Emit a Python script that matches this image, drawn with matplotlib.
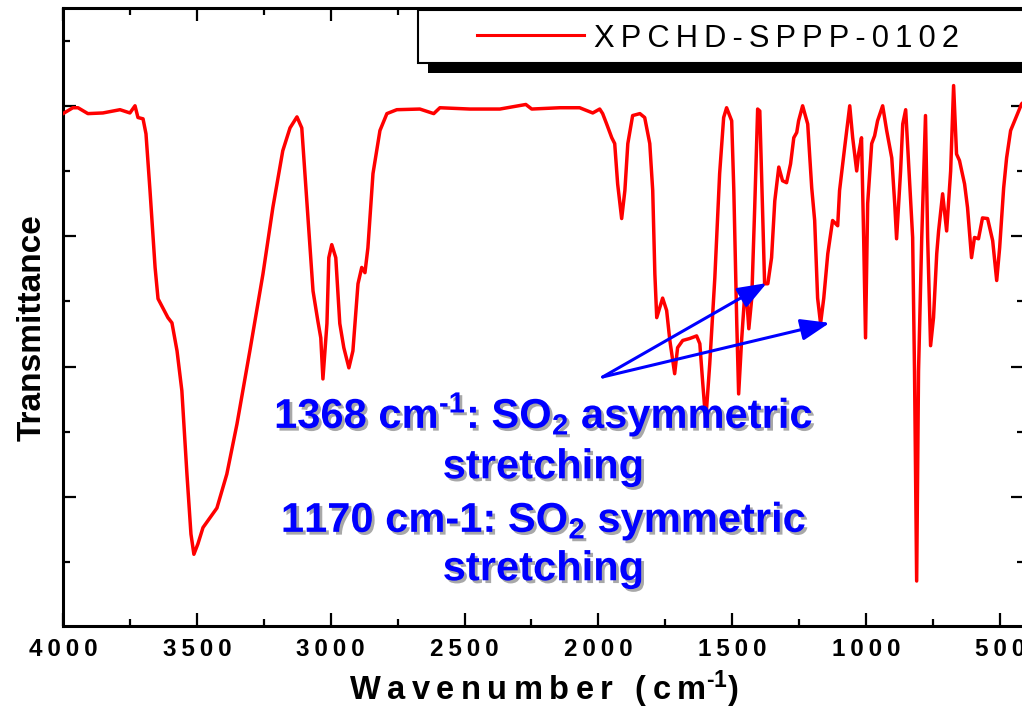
import matplotlib
matplotlib.use("Agg")
import matplotlib.pyplot as plt
import matplotlib.patheffects as pe
from matplotlib import font_manager
from matplotlib.lines import Line2D
from matplotlib.patches import Rectangle
from matplotlib.ticker import FuncFormatter, MultipleLocator

# IR spectrum (cm-1, % transmittance, arbitrary scale)
wavenumber = [
    4000, 3963, 3944, 3907, 3851, 3787, 3750, 3731, 3720, 3701, 3690, 3675,
    3656, 3645, 3627, 3608, 3593, 3574, 3556, 3537, 3522, 3511, 3496, 3477,
    3451, 3425, 3388, 3350, 3302, 3253, 3216, 3179, 3152, 3126, 3108, 3089,
    3066, 3048, 3037, 3029, 3014, 3007, 2996, 2981, 2966, 2951, 2932, 2917,
    2898, 2884, 2872, 2861, 2842, 2816, 2790, 2753, 2667, 2615, 2592, 2480,
    2368, 2271, 2249, 2144, 2070, 2021, 1995, 1984, 1969, 1950, 1939, 1928,
    1913, 1901, 1890, 1872, 1845, 1827, 1808, 1797, 1789, 1782, 1771, 1760,
    1745, 1733, 1715, 1704, 1685, 1659, 1633, 1621, 1610, 1599, 1584, 1565,
    1547, 1532, 1521, 1502, 1494, 1483, 1476, 1465, 1453, 1446, 1438, 1427,
    1416, 1405, 1397, 1386, 1379, 1367, 1353, 1341, 1326, 1312, 1297, 1282,
    1270, 1259, 1252, 1237, 1218, 1203, 1192, 1181, 1170, 1158, 1143, 1125,
    1106, 1099, 1080, 1061, 1050, 1035, 1028, 1017, 1009, 1002, 994, 979,
    968, 957, 938, 923, 904, 893, 886, 871, 863, 852, 841, 826, 819, 811,
    804, 792, 778, 770, 759, 748, 736, 729, 714, 699, 684, 673, 662, 651,
    632, 621, 606, 595, 580, 565, 546, 527, 512, 501, 486, 475, 460, 445,
    434, 419, 410,
]
transmittance = [
    78.8, 79.7, 79.7, 78.8, 78.9, 79.4, 78.9, 80.0, 78.2, 78.0, 75.7, 67.0,
    55.2, 50.4, 49.0, 47.5, 46.7, 42.4, 36.3, 23.5, 14.3, 11.2, 12.8, 15.3,
    16.8, 18.3, 23.5, 31.2, 42.4, 54.2, 64.4, 73.1, 76.6, 78.3, 76.6, 65.4,
    51.6, 47.0, 44.4, 38.1, 46.6, 56.7, 58.7, 56.7, 46.6, 42.9, 39.8, 42.4,
    52.7, 55.2, 54.4, 58.2, 69.6, 76.2, 78.8, 79.4, 79.5, 78.8, 79.7, 79.5,
    79.5, 80.2, 79.5, 79.7, 79.7, 78.9, 79.5, 78.8, 77.2, 75.1, 74.2, 68.0,
    62.7, 67.0, 74.2, 78.5, 78.8, 78.2, 74.2, 67.0, 54.2, 47.5, 49.0, 50.5,
    48.6, 44.0, 38.9, 42.9, 44.0, 44.3, 44.7, 43.5, 37.4, 31.7, 40.4, 53.6,
    69.6, 78.2, 79.7, 77.7, 67.0, 46.6, 35.8, 44.0, 51.2, 50.5, 45.8, 50.5,
    64.4, 79.5, 79.2, 62.8, 52.7, 52.7, 56.7, 65.4, 70.6, 68.5, 68.2, 71.1,
    75.1, 75.9, 77.7, 80.0, 77.2, 67.4, 62.4, 50.5, 46.6, 50.5, 57.3, 62.4,
    61.6, 67.0, 73.6, 80.0, 75.1, 70.0, 72.6, 75.1, 59.8, 44.4, 65.0, 74.2,
    75.4, 77.7, 80.0, 76.2, 72.0, 65.0, 59.6, 70.0, 77.2, 79.4, 71.1, 59.8, 39.3, 7.1,
    39.3, 59.8, 78.5, 59.8, 43.2, 47.5, 57.3, 60.8, 66.5, 60.8, 70.0, 83.1, 72.6, 71.6,
    68.0, 64.4, 56.7, 59.8, 59.6, 62.8, 62.7, 59.3, 53.2, 58.2, 67.4, 72.0, 76.2, 77.7,
    78.8, 80.3, 80.6,
]

series_label = "XPCHD-SPPP-0102"
x_ticks = [4000, 3500, 3000, 2500, 2000, 1500, 1000, 500]
note_lines = [
    "1368 cm$^{\u20101}$: SO$_2$ asymmetric",
    "stretching",
    "1170 cm-1: SO$_2$ symmetric",
    "stretching",
]
arrow_tail = (1984, 38.4)
arrow_heads = [(1371, 52.8), (1136, 46.7)]

names = {f.name for f in font_manager.fontManager.ttflist}
SANS = "Liberation Sans"
NARROW = "Liberation Sans Narrow" if "Liberation Sans Narrow" in names else SANS

plt.rcParams["font.family"] = [SANS, "DejaVu Sans"]
plt.rcParams["mathtext.fontset"] = "custom"
plt.rcParams["mathtext.rm"] = "Liberation Sans:bold"
plt.rcParams["mathtext.bf"] = "Liberation Sans:bold"
plt.rcParams["mathtext.default"] = "bf"

THIN = "\u2009"


def spaced(s, sep=THIN):
    return sep.join(s)


W, H = 1022, 709
fig = plt.figure(figsize=(W / 100, H / 100), dpi=100)
ax = fig.add_axes([63 / W, 83 / H, 961 / W, 618 / H])

ax.plot(wavenumber, transmittance, color="#ff0000", lw=2.5, zorder=3,
        solid_joinstyle="round")
ax.set_xlim(4000, 410)
ax.set_ylim(0.2, 95)

for side in ax.spines.values():
    side.set_linewidth(2.2)

ax.set_xticks(x_ticks)
ax.xaxis.set_minor_locator(MultipleLocator(250))
ax.yaxis.set_major_locator(MultipleLocator(20))
ax.yaxis.set_minor_locator(MultipleLocator(10))
ax.tick_params(which="both", direction="in", top=True, right=True, width=1.6)
ax.tick_params(which="major", length=9.5)
ax.tick_params(which="minor", length=5)
ax.tick_params(axis="y", labelleft=False)
ax.tick_params(axis="x", pad=9)
ax.xaxis.set_major_formatter(FuncFormatter(lambda v, p: spaced(str(int(v)))))
for lab in ax.get_xticklabels():
    lab.set_fontfamily([NARROW, "DejaVu Sans"])
    lab.set_fontweight("bold")
    lab.set_fontsize(17.5)

ax.set_xlabel(spaced("Wavenumber (cm") + "$^{\u20101}$)",
              family=[NARROW, "DejaVu Sans"], weight="bold", fontsize=23.5)
ax.xaxis.set_label_coords(0.5, -0.12)
ax.xaxis.label.set_va("baseline")

ax.set_ylabel("Transmittance", weight="bold", fontsize=24)
ax.yaxis.set_label_coords(-0.032, 0.482)
ax.yaxis.label.set_va("center")

shadow = [pe.withSimplePatchShadow(offset=(2, -2), shadow_rgbFace="#a8a8a8", alpha=1)]
for line, y in zip(note_lines, [0.320, 0.239, 0.152, 0.074]):
    ax.text(0.5, y, line, transform=ax.transAxes, ha="center", va="baseline",
            color="#0000ff", fontsize=30, weight="bold", path_effects=shadow,
            zorder=4)

for head in arrow_heads:
    ax.annotate("", xy=head, xytext=arrow_tail,
                arrowprops=dict(arrowstyle="-|>,head_length=0.8,head_width=0.3",
                                color="#0000ff", lw=2.2, mutation_scale=22,
                                shrinkA=0, shrinkB=0), zorder=5)

# legend box with hard black shadow, running off the right edge
fig.add_artist(Rectangle((428 / W, (H - 73) / H), 0.7, 53 / H,
                         transform=fig.transFigure, facecolor="black",
                         edgecolor="none", zorder=6))
fig.add_artist(Rectangle((418 / W, (H - 63) / H), 0.7, 53 / H,
                         transform=fig.transFigure, facecolor="white",
                         edgecolor="black", lw=1.5, zorder=7))
fig.add_artist(Line2D([477 / W, 584 / W], [(H - 35) / H] * 2,
                      transform=fig.transFigure, color="#ff0000", lw=2.2, zorder=8))
fig.text(594 / W, (H - 47) / H, spaced(series_label), fontsize=22.2,
         va="baseline", ha="left", zorder=9)

fig.savefig("out.png", dpi=100)
